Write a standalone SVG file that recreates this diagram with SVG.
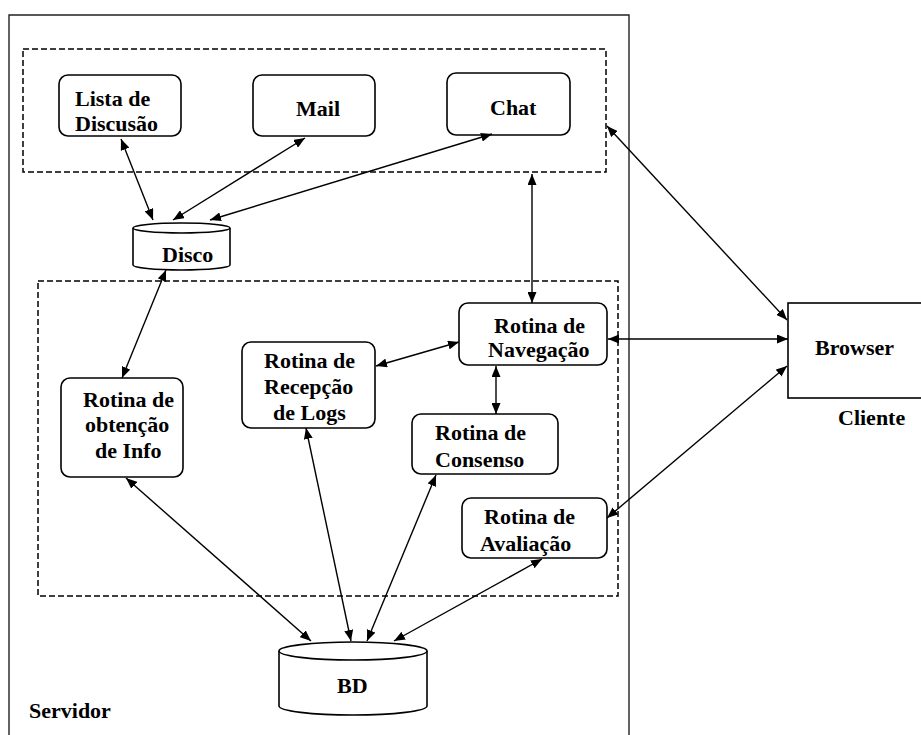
<svg xmlns="http://www.w3.org/2000/svg" width="921" height="735" viewBox="0 0 921 735">
<defs>
<marker id="ah" viewBox="0 0 11 9" refX="11" refY="4.5" markerWidth="11" markerHeight="9" markerUnits="userSpaceOnUse" orient="auto-start-reverse">
<path d="M0,0 L11,4.5 L0,9 z" fill="#000"/>
</marker>
<style>
.box{fill:#fff;stroke:#000;stroke-width:1.6}
.dash{fill:none;stroke:#000;stroke-width:1.5;stroke-dasharray:6 3}
.t{font-family:"Liberation Serif","Times New Roman",serif;font-weight:bold;font-size:22px;fill:#000}
.c line{stroke:#000;stroke-width:1.4;marker-start:url(#ah);marker-end:url(#ah)}
</style>
</defs>
<rect width="921" height="735" fill="#fff"/>
<g id="servidor">
<path d="M9,740 V15 H629 V740" fill="none" stroke="#222" stroke-width="1.4"/>
<text class="t" x="29" y="718">Servidor</text>
</g>
<g id="grupo-comunicacao"><rect class="dash" x="23" y="49" width="583" height="123"/></g>
<g id="grupo-rotinas"><rect class="dash" x="38" y="281" width="580" height="315"/></g>
<g id="lista"><rect class="box" x="59" y="75" width="122" height="61" rx="9"/>
<text class="t" x="75" y="106">Lista de</text><text class="t" x="75" y="131">Discusão</text></g>
<g id="mail"><rect class="box" x="253" y="75" width="122" height="61" rx="9"/>
<text class="t" x="296" y="116">Mail</text></g>
<g id="chat"><rect class="box" x="447" y="73" width="123" height="62" rx="9"/>
<text class="t" x="490" y="115">Chat</text></g>
<g id="disco">
<path class="box" d="M133,228 L133,265 A48.5,5 0 0 0 230,265 L230,228"/>
<ellipse class="box" cx="181.5" cy="228" rx="48.5" ry="5"/>
<text class="t" x="162" y="262">Disco</text></g>
<g id="navegacao"><rect class="box" x="459" y="303" width="148" height="62" rx="9"/>
<text class="t" x="494" y="333">Rotina de</text><text class="t" x="488" y="357">Navegação</text></g>
<g id="recepcao"><rect class="box" x="242" y="342" width="133" height="86" rx="9"/>
<text class="t" x="264" y="368">Rotina de</text><text class="t" x="264" y="394">Recepção</text><text class="t" x="273" y="420">de Logs</text></g>
<g id="obtencao"><rect class="box" x="61" y="378" width="122" height="99" rx="9"/>
<text class="t" x="83" y="407">Rotina de</text><text class="t" x="85" y="432">obtenção</text><text class="t" x="95" y="458">de Info</text></g>
<g id="consenso"><rect class="box" x="412" y="414" width="146" height="60" rx="9"/>
<text class="t" x="435" y="440">Rotina de</text><text class="t" x="435" y="467">Consenso</text></g>
<g id="avaliacao"><rect class="box" x="462" y="498" width="145" height="60" rx="9"/>
<text class="t" x="484" y="524">Rotina de</text><text class="t" x="480" y="551">Avaliação</text></g>
<g id="bd">
<path class="box" d="M279,651 L279,706 A74,9 0 0 0 427,706 L427,651"/>
<ellipse class="box" cx="353" cy="651" rx="74" ry="9"/>
<text class="t" x="337" y="693">BD</text></g>
<g id="browser"><rect class="box" x="788" y="303" width="140" height="95"/>
<text class="t" x="815" y="355">Browser</text>
<text class="t" x="838" y="425">Cliente</text></g>
<g id="connectors" class="c">
<line x1="121" y1="139" x2="153" y2="220"/>
<line x1="305" y1="138" x2="173" y2="220"/>
<line x1="492" y1="134" x2="210" y2="220"/>
<line x1="166" y1="270" x2="122" y2="378"/>
<line x1="532" y1="174" x2="532" y2="303"/>
<line x1="376" y1="366" x2="459" y2="342"/>
<line x1="496" y1="366" x2="496" y2="414"/>
<line x1="608" y1="339" x2="788" y2="339"/>
<line x1="607" y1="126" x2="787" y2="320"/>
<line x1="607" y1="518" x2="787" y2="366"/>
<line x1="126" y1="478" x2="311" y2="641"/>
<line x1="306" y1="428" x2="351" y2="641"/>
<line x1="436" y1="475" x2="367" y2="641"/>
<line x1="542" y1="559" x2="394" y2="641"/>
</g>
</svg>
